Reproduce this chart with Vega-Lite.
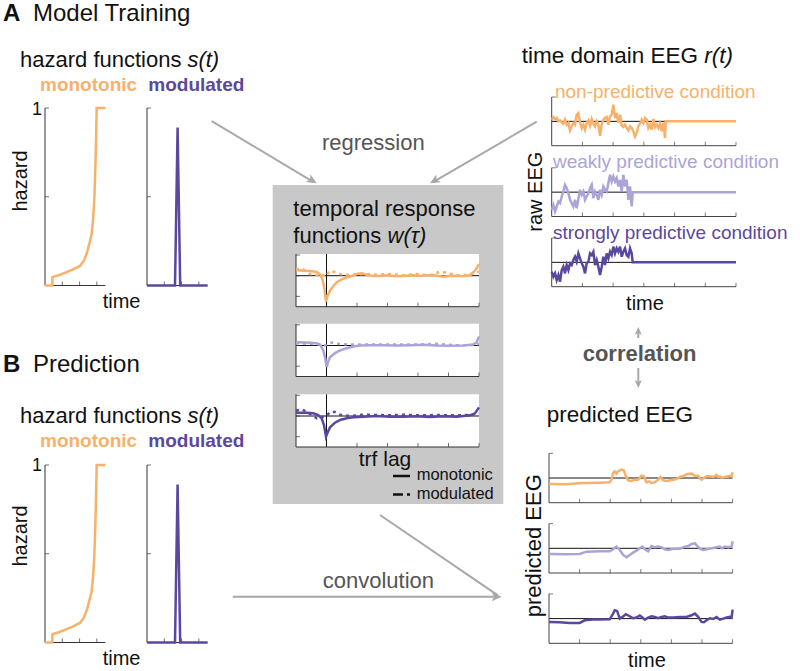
{
"$schema": "https://vega.github.io/schema/vega-lite/v6.json",
"width": 800, "height": 671, "padding": 0, "autosize": "none", "background": "white",
"config": {"view": {"stroke": null}, "axis": {"disable": true}, "font": "Liberation Sans", "text": {"font": "Liberation Sans"}},
"data": {"values": [{}]},
"datasets": {
"hz": [
{"t":0,"h":0,"s":"monotonic"},{"t":0.42,"h":0,"s":"monotonic"},{"t":0.43,"h":0.047,"s":"monotonic"},{"t":0.8,"h":0.058,"s":"monotonic"},{"t":1.25,"h":0.075,"s":"monotonic"},{"t":1.6,"h":0.09,"s":"monotonic"},{"t":2.02,"h":0.11,"s":"monotonic"},{"t":2.25,"h":0.14,"s":"monotonic"},{"t":2.41,"h":0.18,"s":"monotonic"},{"t":2.55,"h":0.23,"s":"monotonic"},{"t":2.7,"h":0.29,"s":"monotonic"},{"t":2.78,"h":0.37,"s":"monotonic"},{"t":2.85,"h":0.48,"s":"monotonic"},{"t":2.9,"h":0.62,"s":"monotonic"},{"t":2.94,"h":0.76,"s":"monotonic"},{"t":2.97,"h":0.9,"s":"monotonic"},{"t":2.99,"h":1.0,"s":"monotonic"},{"t":3.5,"h":1.0,"s":"monotonic"},
{"t":0,"h":0,"s":"modulated"},{"t":1.62,"h":0,"s":"modulated"},{"t":1.77,"h":0.89,"s":"modulated"},{"t":1.92,"h":0,"s":"modulated"},{"t":3.5,"h":0,"s":"modulated"}
],
"trf": [
{"lag":-1,"w":0.274,"c":"np","m":"mono"},{"lag":-0.76,"w":0.242,"c":"np","m":"mono"},{"lag":-0.541,"w":0.226,"c":"np","m":"mono"},{"lag":-0.322,"w":0.177,"c":"np","m":"mono"},{"lag":-0.213,"w":0.081,"c":"np","m":"mono"},{"lag":-0.126,"w":-0.21,"c":"np","m":"mono"},{"lag":-0.071,"w":-0.613,"c":"np","m":"mono"},{"lag":-0.016,"w":-1.258,"c":"np","m":"mono"},{"lag":0.027,"w":-1.016,"c":"np","m":"mono"},{"lag":0.115,"w":-0.726,"c":"np","m":"mono"},{"lag":0.224,"w":-0.5,"c":"np","m":"mono"},{"lag":0.333,"w":-0.323,"c":"np","m":"mono"},{"lag":0.497,"w":-0.177,"c":"np","m":"mono"},{"lag":0.661,"w":-0.081,"c":"np","m":"mono"},{"lag":0.825,"w":-0.016,"c":"np","m":"mono"},{"lag":0.989,"w":0.081,"c":"np","m":"mono"},{"lag":1.153,"w":0.113,"c":"np","m":"mono"},{"lag":1.317,"w":0.048,"c":"np","m":"mono"},{"lag":1.536,"w":-0.016,"c":"np","m":"mono"},{"lag":1.754,"w":-0.016,"c":"np","m":"mono"},{"lag":1.973,"w":0.016,"c":"np","m":"mono"},{"lag":2.191,"w":-0.016,"c":"np","m":"mono"},{"lag":2.41,"w":-0.032,"c":"np","m":"mono"},{"lag":2.628,"w":0,"c":"np","m":"mono"},{"lag":2.847,"w":0.016,"c":"np","m":"mono"},{"lag":3.066,"w":-0.016,"c":"np","m":"mono"},{"lag":3.284,"w":0.016,"c":"np","m":"mono"},{"lag":3.503,"w":0.032,"c":"np","m":"mono"},{"lag":3.667,"w":-0.016,"c":"np","m":"mono"},{"lag":3.831,"w":-0.048,"c":"np","m":"mono"},{"lag":4.049,"w":-0.016,"c":"np","m":"mono"},{"lag":4.268,"w":0,"c":"np","m":"mono"},{"lag":4.486,"w":-0.032,"c":"np","m":"mono"},{"lag":4.705,"w":0.032,"c":"np","m":"mono"},{"lag":4.836,"w":0.194,"c":"np","m":"mono"},{"lag":4.923,"w":0.355,"c":"np","m":"mono"},{"lag":5.0,"w":0.565,"c":"np","m":"mono"},
{"lag":-1,"w":0.323,"c":"np","m":"mod"},{"lag":-0.76,"w":0.306,"c":"np","m":"mod"},{"lag":-0.541,"w":0.081,"c":"np","m":"mod"},{"lag":-0.322,"w":0.032,"c":"np","m":"mod"},{"lag":-0.158,"w":0.081,"c":"np","m":"mod"},{"lag":-0.049,"w":-0.048,"c":"np","m":"mod"},{"lag":0.027,"w":0.081,"c":"np","m":"mod"},{"lag":0.115,"w":0.242,"c":"np","m":"mod"},{"lag":0.224,"w":0.194,"c":"np","m":"mod"},{"lag":0.443,"w":0.081,"c":"np","m":"mod"},{"lag":0.77,"w":0.032,"c":"np","m":"mod"},{"lag":1.208,"w":0.081,"c":"np","m":"mod"},{"lag":1.645,"w":0.048,"c":"np","m":"mod"},{"lag":2.082,"w":0.081,"c":"np","m":"mod"},{"lag":2.519,"w":0.016,"c":"np","m":"mod"},{"lag":2.956,"w":0.081,"c":"np","m":"mod"},{"lag":3.393,"w":0.016,"c":"np","m":"mod"},{"lag":3.721,"w":0.194,"c":"np","m":"mod"},{"lag":3.94,"w":0.145,"c":"np","m":"mod"},{"lag":4.268,"w":0.016,"c":"np","m":"mod"},{"lag":4.705,"w":0.048,"c":"np","m":"mod"},{"lag":5.0,"w":0.194,"c":"np","m":"mod"},
{"lag":-1,"w":0.161,"c":"wp","m":"mono"},{"lag":-0.65,"w":0.145,"c":"wp","m":"mono"},{"lag":-0.322,"w":0.113,"c":"wp","m":"mono"},{"lag":-0.213,"w":0.048,"c":"wp","m":"mono"},{"lag":-0.104,"w":-0.242,"c":"wp","m":"mono"},{"lag":-0.038,"w":-0.645,"c":"wp","m":"mono"},{"lag":0.005,"w":-1.048,"c":"wp","m":"mono"},{"lag":0.049,"w":-0.806,"c":"wp","m":"mono"},{"lag":0.115,"w":-0.565,"c":"wp","m":"mono"},{"lag":0.279,"w":-0.371,"c":"wp","m":"mono"},{"lag":0.443,"w":-0.242,"c":"wp","m":"mono"},{"lag":0.661,"w":-0.129,"c":"wp","m":"mono"},{"lag":0.88,"w":-0.048,"c":"wp","m":"mono"},{"lag":1.098,"w":0,"c":"wp","m":"mono"},{"lag":1.426,"w":0.016,"c":"wp","m":"mono"},{"lag":1.863,"w":0.016,"c":"wp","m":"mono"},{"lag":2.301,"w":0,"c":"wp","m":"mono"},{"lag":2.738,"w":0.016,"c":"wp","m":"mono"},{"lag":3.175,"w":0.032,"c":"wp","m":"mono"},{"lag":3.612,"w":0,"c":"wp","m":"mono"},{"lag":4.049,"w":-0.016,"c":"wp","m":"mono"},{"lag":4.486,"w":0,"c":"wp","m":"mono"},{"lag":4.814,"w":0.048,"c":"wp","m":"mono"},{"lag":4.923,"w":0.161,"c":"wp","m":"mono"},{"lag":5.0,"w":0.435,"c":"wp","m":"mono"},
{"lag":-1,"w":0.113,"c":"wp","m":"mod"},{"lag":-0.541,"w":0.081,"c":"wp","m":"mod"},{"lag":-0.213,"w":0.048,"c":"wp","m":"mod"},{"lag":-0.049,"w":0,"c":"wp","m":"mod"},{"lag":0.06,"w":0.081,"c":"wp","m":"mod"},{"lag":0.169,"w":0.145,"c":"wp","m":"mod"},{"lag":0.333,"w":0.081,"c":"wp","m":"mod"},{"lag":0.77,"w":0.048,"c":"wp","m":"mod"},{"lag":1.426,"w":0.048,"c":"wp","m":"mod"},{"lag":1.973,"w":0.048,"c":"wp","m":"mod"},{"lag":2.519,"w":0.048,"c":"wp","m":"mod"},{"lag":3.066,"w":0.048,"c":"wp","m":"mod"},{"lag":3.612,"w":0.081,"c":"wp","m":"mod"},{"lag":4.158,"w":0.016,"c":"wp","m":"mod"},{"lag":4.705,"w":0.016,"c":"wp","m":"mod"},{"lag":5.0,"w":0.081,"c":"wp","m":"mod"},
{"lag":-1,"w":0.161,"c":"sp","m":"mono"},{"lag":-0.65,"w":0.161,"c":"sp","m":"mono"},{"lag":-0.432,"w":0.129,"c":"sp","m":"mono"},{"lag":-0.268,"w":0.048,"c":"sp","m":"mono"},{"lag":-0.158,"w":-0.113,"c":"sp","m":"mono"},{"lag":-0.082,"w":-0.435,"c":"sp","m":"mono"},{"lag":-0.016,"w":-1.0,"c":"sp","m":"mono"},{"lag":0.027,"w":-0.839,"c":"sp","m":"mono"},{"lag":0.115,"w":-0.548,"c":"sp","m":"mono"},{"lag":0.279,"w":-0.323,"c":"sp","m":"mono"},{"lag":0.443,"w":-0.194,"c":"sp","m":"mono"},{"lag":0.661,"w":-0.113,"c":"sp","m":"mono"},{"lag":0.88,"w":-0.065,"c":"sp","m":"mono"},{"lag":1.208,"w":-0.032,"c":"sp","m":"mono"},{"lag":1.645,"w":0,"c":"sp","m":"mono"},{"lag":2.082,"w":-0.032,"c":"sp","m":"mono"},{"lag":2.519,"w":-0.032,"c":"sp","m":"mono"},{"lag":2.956,"w":-0.016,"c":"sp","m":"mono"},{"lag":3.393,"w":-0.048,"c":"sp","m":"mono"},{"lag":3.831,"w":-0.016,"c":"sp","m":"mono"},{"lag":4.268,"w":-0.032,"c":"sp","m":"mono"},{"lag":4.705,"w":0.032,"c":"sp","m":"mono"},{"lag":4.869,"w":0.129,"c":"sp","m":"mono"},{"lag":5.0,"w":0.419,"c":"sp","m":"mono"},
{"lag":-1,"w":0.258,"c":"sp","m":"mod"},{"lag":-0.814,"w":0.323,"c":"sp","m":"mod"},{"lag":-0.65,"w":0.21,"c":"sp","m":"mod"},{"lag":-0.486,"w":0.048,"c":"sp","m":"mod"},{"lag":-0.322,"w":-0.113,"c":"sp","m":"mod"},{"lag":-0.213,"w":-0.129,"c":"sp","m":"mod"},{"lag":-0.104,"w":-0.032,"c":"sp","m":"mod"},{"lag":0.005,"w":0,"c":"sp","m":"mod"},{"lag":0.115,"w":0.194,"c":"sp","m":"mod"},{"lag":0.279,"w":0.194,"c":"sp","m":"mod"},{"lag":0.443,"w":0.065,"c":"sp","m":"mod"},{"lag":0.77,"w":0,"c":"sp","m":"mod"},{"lag":1.208,"w":0.065,"c":"sp","m":"mod"},{"lag":1.645,"w":0.048,"c":"sp","m":"mod"},{"lag":2.082,"w":0.032,"c":"sp","m":"mod"},{"lag":2.519,"w":0.065,"c":"sp","m":"mod"},{"lag":3.066,"w":0.032,"c":"sp","m":"mod"},{"lag":3.612,"w":0.048,"c":"sp","m":"mod"},{"lag":4.158,"w":0.032,"c":"sp","m":"mod"},{"lag":4.705,"w":0.048,"c":"sp","m":"mod"},{"lag":5.0,"w":0.129,"c":"sp","m":"mod"}
],
"raw": [
{"t":0,"v":0.068,"c":"np"},{"t":0.054,"v":0.178,"c":"np"},{"t":0.109,"v":0.096,"c":"np"},{"t":0.163,"v":0.137,"c":"np"},{"t":0.217,"v":0,"c":"np"},{"t":0.271,"v":0.041,"c":"np"},{"t":0.326,"v":-0.041,"c":"np"},{"t":0.38,"v":-0.096,"c":"np"},{"t":0.434,"v":0.068,"c":"np"},{"t":0.488,"v":-0.137,"c":"np"},{"t":0.543,"v":-0.068,"c":"np"},{"t":0.597,"v":-0.37,"c":"np"},{"t":0.651,"v":-0.205,"c":"np"},{"t":0.705,"v":-0.068,"c":"np"},{"t":0.76,"v":-0.137,"c":"np"},{"t":0.814,"v":0.274,"c":"np"},{"t":0.868,"v":0.342,"c":"np"},{"t":0.922,"v":-0.041,"c":"np"},{"t":0.977,"v":-0.274,"c":"np"},{"t":1.031,"v":-0.137,"c":"np"},{"t":1.085,"v":-0.342,"c":"np"},{"t":1.139,"v":-0.068,"c":"np"},{"t":1.194,"v":0.041,"c":"np"},{"t":1.248,"v":-0.178,"c":"np"},{"t":1.302,"v":0.096,"c":"np"},{"t":1.356,"v":-0.096,"c":"np"},{"t":1.411,"v":-0.205,"c":"np"},{"t":1.465,"v":0,"c":"np"},{"t":1.519,"v":-0.137,"c":"np"},{"t":1.574,"v":-0.589,"c":"np"},{"t":1.628,"v":-0.137,"c":"np"},{"t":1.682,"v":0.068,"c":"np"},{"t":1.736,"v":0.137,"c":"np"},{"t":1.791,"v":0.178,"c":"np"},{"t":1.845,"v":-0.137,"c":"np"},{"t":1.899,"v":0.205,"c":"np"},{"t":1.953,"v":0.274,"c":"np"},{"t":2.008,"v":0.685,"c":"np"},{"t":2.062,"v":0.137,"c":"np"},{"t":2.116,"v":0.342,"c":"np"},{"t":2.17,"v":-0.068,"c":"np"},{"t":2.225,"v":0.274,"c":"np"},{"t":2.279,"v":-0.178,"c":"np"},{"t":2.333,"v":-0.233,"c":"np"},{"t":2.387,"v":-0.137,"c":"np"},{"t":2.442,"v":-0.274,"c":"np"},{"t":2.496,"v":-0.37,"c":"np"},{"t":2.55,"v":-0.205,"c":"np"},{"t":2.604,"v":-0.274,"c":"np"},{"t":2.659,"v":-0.411,"c":"np"},{"t":2.713,"v":-0.616,"c":"np"},{"t":2.767,"v":-0.452,"c":"np"},{"t":2.821,"v":-0.205,"c":"np"},{"t":2.876,"v":-0.096,"c":"np"},{"t":2.93,"v":0.068,"c":"np"},{"t":2.984,"v":-0.068,"c":"np"},{"t":3.039,"v":0.137,"c":"np"},{"t":3.093,"v":0.068,"c":"np"},{"t":3.147,"v":-0.274,"c":"np"},{"t":3.201,"v":-0.137,"c":"np"},{"t":3.256,"v":-0.342,"c":"np"},{"t":3.31,"v":0.096,"c":"np"},{"t":3.364,"v":-0.233,"c":"np"},{"t":3.418,"v":-0.137,"c":"np"},{"t":3.473,"v":-0.274,"c":"np"},{"t":3.527,"v":-0.096,"c":"np"},{"t":3.581,"v":-0.411,"c":"np"},{"t":3.635,"v":-0.068,"c":"np"},{"t":3.69,"v":-0.685,"c":"np"},{"t":3.711,"v":0,"c":"np"},{"t":6,"v":0,"c":"np"},
{"t":0,"v":-0.726,"c":"wp"},{"t":0.054,"v":-0.521,"c":"wp"},{"t":0.109,"v":-0.795,"c":"wp"},{"t":0.163,"v":-0.589,"c":"wp"},{"t":0.217,"v":-0.384,"c":"wp"},{"t":0.271,"v":-0.452,"c":"wp"},{"t":0.326,"v":-0.178,"c":"wp"},{"t":0.38,"v":0.027,"c":"wp"},{"t":0.434,"v":0.301,"c":"wp"},{"t":0.488,"v":0.164,"c":"wp"},{"t":0.543,"v":-0.041,"c":"wp"},{"t":0.597,"v":-0.315,"c":"wp"},{"t":0.651,"v":-0.452,"c":"wp"},{"t":0.705,"v":-0.589,"c":"wp"},{"t":0.76,"v":-0.315,"c":"wp"},{"t":0.814,"v":-0.658,"c":"wp"},{"t":0.868,"v":-0.288,"c":"wp"},{"t":0.922,"v":0.096,"c":"wp"},{"t":0.977,"v":-0.11,"c":"wp"},{"t":1.031,"v":0.027,"c":"wp"},{"t":1.085,"v":-0.315,"c":"wp"},{"t":1.139,"v":-0.178,"c":"wp"},{"t":1.194,"v":-0.041,"c":"wp"},{"t":1.248,"v":0.164,"c":"wp"},{"t":1.302,"v":0.301,"c":"wp"},{"t":1.356,"v":-0.247,"c":"wp"},{"t":1.411,"v":0.027,"c":"wp"},{"t":1.465,"v":-0.11,"c":"wp"},{"t":1.519,"v":-0.315,"c":"wp"},{"t":1.574,"v":0.096,"c":"wp"},{"t":1.628,"v":-0.11,"c":"wp"},{"t":1.682,"v":0.233,"c":"wp"},{"t":1.736,"v":0.096,"c":"wp"},{"t":1.791,"v":0.027,"c":"wp"},{"t":1.845,"v":0.37,"c":"wp"},{"t":1.899,"v":0.712,"c":"wp"},{"t":1.953,"v":0.438,"c":"wp"},{"t":2.008,"v":0.644,"c":"wp"},{"t":2.062,"v":0.438,"c":"wp"},{"t":2.116,"v":0.575,"c":"wp"},{"t":2.17,"v":0.233,"c":"wp"},{"t":2.225,"v":0.507,"c":"wp"},{"t":2.279,"v":0.027,"c":"wp"},{"t":2.333,"v":0.712,"c":"wp"},{"t":2.387,"v":0.233,"c":"wp"},{"t":2.442,"v":0.507,"c":"wp"},{"t":2.496,"v":-0.315,"c":"wp"},{"t":2.55,"v":0.233,"c":"wp"},{"t":2.604,"v":-0.589,"c":"wp"},{"t":2.637,"v":0,"c":"wp"},{"t":6,"v":0,"c":"wp"},
{"t":0,"v":-0.384,"c":"sp"},{"t":0.054,"v":-0.589,"c":"sp"},{"t":0.109,"v":-0.452,"c":"sp"},{"t":0.163,"v":-0.726,"c":"sp"},{"t":0.217,"v":-0.521,"c":"sp"},{"t":0.271,"v":-0.795,"c":"sp"},{"t":0.326,"v":-0.315,"c":"sp"},{"t":0.38,"v":-0.178,"c":"sp"},{"t":0.434,"v":-0.452,"c":"sp"},{"t":0.488,"v":-0.11,"c":"sp"},{"t":0.543,"v":-0.315,"c":"sp"},{"t":0.597,"v":-0.041,"c":"sp"},{"t":0.651,"v":-0.11,"c":"sp"},{"t":0.705,"v":0.096,"c":"sp"},{"t":0.76,"v":0.233,"c":"sp"},{"t":0.814,"v":0.027,"c":"sp"},{"t":0.868,"v":0.37,"c":"sp"},{"t":0.922,"v":0.164,"c":"sp"},{"t":0.977,"v":-0.041,"c":"sp"},{"t":1.031,"v":-0.178,"c":"sp"},{"t":1.085,"v":-0.452,"c":"sp"},{"t":1.139,"v":-0.041,"c":"sp"},{"t":1.194,"v":0.027,"c":"sp"},{"t":1.248,"v":0.37,"c":"sp"},{"t":1.302,"v":0.301,"c":"sp"},{"t":1.356,"v":0.438,"c":"sp"},{"t":1.411,"v":-0.11,"c":"sp"},{"t":1.465,"v":0.096,"c":"sp"},{"t":1.519,"v":-0.178,"c":"sp"},{"t":1.574,"v":-0.521,"c":"sp"},{"t":1.628,"v":-0.178,"c":"sp"},{"t":1.682,"v":0.233,"c":"sp"},{"t":1.736,"v":-0.11,"c":"sp"},{"t":1.791,"v":0.37,"c":"sp"},{"t":1.845,"v":0.164,"c":"sp"},{"t":1.899,"v":0.438,"c":"sp"},{"t":1.953,"v":0.301,"c":"sp"},{"t":2.008,"v":0.644,"c":"sp"},{"t":2.062,"v":0.37,"c":"sp"},{"t":2.116,"v":0.575,"c":"sp"},{"t":2.17,"v":0.438,"c":"sp"},{"t":2.225,"v":0.644,"c":"sp"},{"t":2.279,"v":0.233,"c":"sp"},{"t":2.333,"v":0.438,"c":"sp"},{"t":2.387,"v":0.575,"c":"sp"},{"t":2.442,"v":0.301,"c":"sp"},{"t":2.496,"v":0.233,"c":"sp"},{"t":2.55,"v":0.575,"c":"sp"},{"t":2.604,"v":0.37,"c":"sp"},{"t":2.637,"v":0,"c":"sp"},{"t":6,"v":0,"c":"sp"}
],
"pred": [
{"t":0,"v":-0.243,"c":"np"},{"t":0.567,"v":-0.257,"c":"np"},{"t":1.113,"v":-0.203,"c":"np"},{"t":1.658,"v":-0.189,"c":"np"},{"t":1.985,"v":-0.176,"c":"np"},{"t":2.04,"v":-0.068,"c":"np"},{"t":2.094,"v":0.203,"c":"np"},{"t":2.149,"v":0.27,"c":"np"},{"t":2.204,"v":0.176,"c":"np"},{"t":2.258,"v":0.27,"c":"np"},{"t":2.367,"v":0.338,"c":"np"},{"t":2.444,"v":0.311,"c":"np"},{"t":2.509,"v":0.095,"c":"np"},{"t":2.585,"v":-0.095,"c":"np"},{"t":2.694,"v":-0.122,"c":"np"},{"t":2.804,"v":-0.068,"c":"np"},{"t":2.913,"v":-0.068,"c":"np"},{"t":3.022,"v":0.095,"c":"np"},{"t":3.098,"v":0.068,"c":"np"},{"t":3.185,"v":-0.176,"c":"np"},{"t":3.273,"v":-0.135,"c":"np"},{"t":3.349,"v":-0.203,"c":"np"},{"t":3.458,"v":-0.176,"c":"np"},{"t":3.567,"v":-0.068,"c":"np"},{"t":3.644,"v":0.041,"c":"np"},{"t":3.731,"v":-0.095,"c":"np"},{"t":3.84,"v":-0.122,"c":"np"},{"t":3.949,"v":-0.095,"c":"np"},{"t":4.058,"v":-0.068,"c":"np"},{"t":4.167,"v":-0.041,"c":"np"},{"t":4.276,"v":0.041,"c":"np"},{"t":4.385,"v":0.068,"c":"np"},{"t":4.494,"v":0.149,"c":"np"},{"t":4.658,"v":0.176,"c":"np"},{"t":4.767,"v":0.095,"c":"np"},{"t":4.876,"v":0.095,"c":"np"},{"t":4.931,"v":-0.014,"c":"np"},{"t":4.985,"v":-0.068,"c":"np"},{"t":5.062,"v":0,"c":"np"},{"t":5.149,"v":0.068,"c":"np"},{"t":5.258,"v":0.068,"c":"np"},{"t":5.367,"v":0.041,"c":"np"},{"t":5.476,"v":0.122,"c":"np"},{"t":5.531,"v":0.041,"c":"np"},{"t":5.585,"v":0.068,"c":"np"},{"t":5.64,"v":0.014,"c":"np"},{"t":5.749,"v":0.041,"c":"np"},{"t":5.858,"v":0.068,"c":"np"},{"t":5.913,"v":0.095,"c":"np"},{"t":5.967,"v":0.068,"c":"np"},{"t":6,"v":0.23,"c":"np"},
{"t":0,"v":-0.23,"c":"wp"},{"t":0.567,"v":-0.243,"c":"wp"},{"t":1.004,"v":-0.23,"c":"wp"},{"t":1.222,"v":-0.135,"c":"wp"},{"t":1.658,"v":-0.122,"c":"wp"},{"t":1.985,"v":-0.122,"c":"wp"},{"t":2.094,"v":-0.041,"c":"wp"},{"t":2.204,"v":0.068,"c":"wp"},{"t":2.313,"v":-0.068,"c":"wp"},{"t":2.422,"v":-0.27,"c":"wp"},{"t":2.531,"v":-0.365,"c":"wp"},{"t":2.64,"v":-0.27,"c":"wp"},{"t":2.749,"v":-0.176,"c":"wp"},{"t":2.858,"v":-0.095,"c":"wp"},{"t":2.967,"v":0,"c":"wp"},{"t":3.054,"v":0.068,"c":"wp"},{"t":3.131,"v":-0.041,"c":"wp"},{"t":3.24,"v":-0.122,"c":"wp"},{"t":3.349,"v":0.095,"c":"wp"},{"t":3.458,"v":0.041,"c":"wp"},{"t":3.567,"v":0.068,"c":"wp"},{"t":3.676,"v":0.041,"c":"wp"},{"t":3.785,"v":-0.041,"c":"wp"},{"t":3.894,"v":-0.068,"c":"wp"},{"t":4.003,"v":-0.041,"c":"wp"},{"t":4.113,"v":-0.014,"c":"wp"},{"t":4.276,"v":-0.014,"c":"wp"},{"t":4.44,"v":0.068,"c":"wp"},{"t":4.549,"v":0.095,"c":"wp"},{"t":4.658,"v":0.176,"c":"wp"},{"t":4.767,"v":0.203,"c":"wp"},{"t":4.931,"v":-0.014,"c":"wp"},{"t":5.04,"v":-0.068,"c":"wp"},{"t":5.149,"v":-0.041,"c":"wp"},{"t":5.258,"v":-0.014,"c":"wp"},{"t":5.367,"v":0.014,"c":"wp"},{"t":5.476,"v":0.041,"c":"wp"},{"t":5.585,"v":0.068,"c":"wp"},{"t":5.64,"v":0,"c":"wp"},{"t":5.749,"v":0.068,"c":"wp"},{"t":5.858,"v":0.041,"c":"wp"},{"t":5.967,"v":0.068,"c":"wp"},{"t":6,"v":0.284,"c":"wp"},
{"t":0,"v":-0.135,"c":"sp"},{"t":0.349,"v":-0.149,"c":"sp"},{"t":0.676,"v":-0.176,"c":"sp"},{"t":1.004,"v":-0.176,"c":"sp"},{"t":1.167,"v":-0.068,"c":"sp"},{"t":1.44,"v":-0.041,"c":"sp"},{"t":1.658,"v":-0.041,"c":"sp"},{"t":1.985,"v":-0.027,"c":"sp"},{"t":2.094,"v":0.203,"c":"sp"},{"t":2.149,"v":0.338,"c":"sp"},{"t":2.225,"v":0.311,"c":"sp"},{"t":2.313,"v":0,"c":"sp"},{"t":2.4,"v":0.068,"c":"sp"},{"t":2.509,"v":0.176,"c":"sp"},{"t":2.64,"v":0.095,"c":"sp"},{"t":2.749,"v":0.014,"c":"sp"},{"t":2.858,"v":0.041,"c":"sp"},{"t":2.967,"v":0.122,"c":"sp"},{"t":3.054,"v":0.041,"c":"sp"},{"t":3.131,"v":-0.041,"c":"sp"},{"t":3.24,"v":0.041,"c":"sp"},{"t":3.349,"v":0.095,"c":"sp"},{"t":3.458,"v":0.068,"c":"sp"},{"t":3.567,"v":0.014,"c":"sp"},{"t":3.676,"v":0.068,"c":"sp"},{"t":3.785,"v":0.095,"c":"sp"},{"t":3.894,"v":0.041,"c":"sp"},{"t":4.058,"v":0.041,"c":"sp"},{"t":4.276,"v":0.068,"c":"sp"},{"t":4.494,"v":0.068,"c":"sp"},{"t":4.658,"v":0.135,"c":"sp"},{"t":4.767,"v":0.203,"c":"sp"},{"t":4.876,"v":0.068,"c":"sp"},{"t":4.985,"v":-0.135,"c":"sp"},{"t":5.062,"v":-0.149,"c":"sp"},{"t":5.149,"v":-0.068,"c":"sp"},{"t":5.258,"v":0.014,"c":"sp"},{"t":5.367,"v":-0.014,"c":"sp"},{"t":5.476,"v":0.068,"c":"sp"},{"t":5.585,"v":-0.041,"c":"sp"},{"t":5.694,"v":0,"c":"sp"},{"t":5.803,"v":0.041,"c":"sp"},{"t":5.913,"v":0.068,"c":"sp"},{"t":5.967,"v":0.041,"c":"sp"},{"t":6,"v":0.365,"c":"sp"}
]
},
"layer": [
{"layer": [
 {"mark":{"type":"rule","color":"#333","strokeWidth":1},"encoding":{"x":{"datum":0,"type":"quantitative","scale":{"domain":[0,3.5],"range":[45,105.5],"nice":false,"zero":false}},"y":{"datum":0,"type":"quantitative","scale":{"domain":[0,1],"range":[285.5,108],"nice":false,"zero":false}},"y2":{"datum":1}}},
 {"mark":{"type":"rule","color":"#333","strokeWidth":1},"encoding":{"x":{"datum":0},"x2":{"datum":3.5},"y":{"datum":0}}},
 {"data":{"values":[{"v":1},{"v":2},{"v":3}]},"mark":{"type":"tick","orient":"vertical","size":4,"thickness":1,"yOffset":-2,"color":"#333"},"encoding":{"x":{"field":"v","type":"quantitative"},"y":{"datum":0}}},
 {"data":{"values":[{"v":0.5},{"v":1}]},"mark":{"type":"tick","orient":"horizontal","size":4,"thickness":1,"xOffset":2,"color":"#333"},"encoding":{"y":{"field":"v","type":"quantitative"},"x":{"datum":0}}},
 {"data":{"name":"hz"},"transform":[{"filter":"datum.s=='monotonic'"}],"mark":{"type":"line","color":"#F7B16A","strokeWidth":2.5},"encoding":{"x":{"field":"t","type":"quantitative"},"y":{"field":"h","type":"quantitative"}}},
 {"mark":{"type":"text","text":"A","fontSize":24,"fontWeight":"bold","align":"left","baseline":"alphabetic","color":"#111"},"encoding":{"x":{"datum":-2.43},"y":{"datum":1.49}}},
 {"mark":{"type":"text","text":"Model Training","fontSize":24,"align":"left","baseline":"alphabetic","color":"#111"},"encoding":{"x":{"datum":-0.694},"y":{"datum":1.49}}},
 {"mark":{"type":"text","text":"hazard functions","fontSize":22,"align":"left","baseline":"alphabetic","color":"#111"},"encoding":{"x":{"datum":-1.445},"y":{"datum":1.2327}}},
 {"mark":{"type":"text","text":"s(t)","fontSize":22,"fontStyle":"italic","align":"left","baseline":"alphabetic","color":"#111"},"encoding":{"x":{"datum":8.24},"y":{"datum":1.2327}}},
 {"mark":{"type":"text","text":"monotonic","fontSize":19,"fontWeight":"bold","align":"left","baseline":"alphabetic","color":"#F7B16A"},"encoding":{"x":{"datum":-0.289},"y":{"datum":1.0958}}},
 {"mark":{"type":"text","text":"1","fontSize":18,"align":"right","baseline":"alphabetic","color":"#111"},"encoding":{"x":{"datum":-0.173},"y":{"datum":0.9606}}},
 {"mark":{"type":"text","text":"hazard","fontSize":20,"angle":270,"align":"center","baseline":"alphabetic","color":"#111"},"encoding":{"x":{"datum":-1.058},"y":{"datum":0.5887}}},
 {"mark":{"type":"text","text":"time","fontSize":20,"align":"center","baseline":"alphabetic","color":"#111"},"encoding":{"x":{"datum":4.43},"y":{"datum":-0.1268}}}
]},
{"layer": [
 {"mark":{"type":"rule","color":"#333","strokeWidth":1},"encoding":{"x":{"datum":0,"type":"quantitative","scale":{"domain":[0,3.5],"range":[147,207.5],"nice":false,"zero":false}},"y":{"datum":0,"type":"quantitative","scale":{"domain":[0,1],"range":[285.5,108],"nice":false,"zero":false}},"y2":{"datum":1}}},
 {"mark":{"type":"rule","color":"#333","strokeWidth":1},"encoding":{"x":{"datum":0},"x2":{"datum":3.5},"y":{"datum":0}}},
 {"data":{"values":[{"v":1},{"v":2},{"v":3}]},"mark":{"type":"tick","orient":"vertical","size":4,"thickness":1,"yOffset":-2,"color":"#333"},"encoding":{"x":{"field":"v","type":"quantitative"},"y":{"datum":0}}},
 {"data":{"values":[{"v":0.5},{"v":1}]},"mark":{"type":"tick","orient":"horizontal","size":4,"thickness":1,"xOffset":2,"color":"#333"},"encoding":{"y":{"field":"v","type":"quantitative"},"x":{"datum":0}}},
 {"data":{"name":"hz"},"transform":[{"filter":"datum.s=='modulated'"}],"mark":{"type":"line","color":"#5C479E","strokeWidth":2.5},"encoding":{"x":{"field":"t","type":"quantitative"},"y":{"field":"h","type":"quantitative"}}},
 {"mark":{"type":"text","text":"modulated","fontSize":19,"fontWeight":"bold","align":"left","baseline":"alphabetic","color":"#5C479E"},"encoding":{"x":{"datum":0.075},"y":{"datum":1.0958}}}
]},
{"layer": [
 {"mark":{"type":"rule","color":"#333","strokeWidth":1},"encoding":{"x":{"datum":0,"type":"quantitative","scale":{"domain":[0,3.5],"range":[45,105.5],"nice":false,"zero":false}},"y":{"datum":0,"type":"quantitative","scale":{"domain":[0,1],"range":[642.5,465],"nice":false,"zero":false}},"y2":{"datum":1}}},
 {"mark":{"type":"rule","color":"#333","strokeWidth":1},"encoding":{"x":{"datum":0},"x2":{"datum":3.5},"y":{"datum":0}}},
 {"data":{"values":[{"v":1},{"v":2},{"v":3}]},"mark":{"type":"tick","orient":"vertical","size":4,"thickness":1,"yOffset":-2,"color":"#333"},"encoding":{"x":{"field":"v","type":"quantitative"},"y":{"datum":0}}},
 {"data":{"values":[{"v":0.5},{"v":1}]},"mark":{"type":"tick","orient":"horizontal","size":4,"thickness":1,"xOffset":2,"color":"#333"},"encoding":{"y":{"field":"v","type":"quantitative"},"x":{"datum":0}}},
 {"data":{"name":"hz"},"transform":[{"filter":"datum.s=='monotonic'"}],"mark":{"type":"line","color":"#F7B16A","strokeWidth":2.5},"encoding":{"x":{"field":"t","type":"quantitative"},"y":{"field":"h","type":"quantitative"}}},
 {"mark":{"type":"text","text":"B","fontSize":24,"fontWeight":"bold","align":"left","baseline":"alphabetic","color":"#111"},"encoding":{"x":{"datum":-2.43},"y":{"datum":1.524}}},
 {"mark":{"type":"text","text":"Prediction","fontSize":24,"align":"left","baseline":"alphabetic","color":"#111"},"encoding":{"x":{"datum":-0.694},"y":{"datum":1.524}}},
 {"mark":{"type":"text","text":"hazard functions","fontSize":22,"align":"left","baseline":"alphabetic","color":"#111"},"encoding":{"x":{"datum":-1.445},"y":{"datum":1.2366}}},
 {"mark":{"type":"text","text":"s(t)","fontSize":22,"fontStyle":"italic","align":"left","baseline":"alphabetic","color":"#111"},"encoding":{"x":{"datum":8.24},"y":{"datum":1.2366}}},
 {"mark":{"type":"text","text":"monotonic","fontSize":19,"fontWeight":"bold","align":"left","baseline":"alphabetic","color":"#F7B16A"},"encoding":{"x":{"datum":-0.289},"y":{"datum":1.1014}}},
 {"mark":{"type":"text","text":"1","fontSize":18,"align":"right","baseline":"alphabetic","color":"#111"},"encoding":{"x":{"datum":-0.173},"y":{"datum":0.9634}}},
 {"mark":{"type":"text","text":"hazard","fontSize":20,"angle":270,"align":"center","baseline":"alphabetic","color":"#111"},"encoding":{"x":{"datum":-1.058},"y":{"datum":0.6}}},
 {"mark":{"type":"text","text":"time","fontSize":20,"align":"center","baseline":"alphabetic","color":"#111"},"encoding":{"x":{"datum":4.43},"y":{"datum":-0.1268}}}
]},
{"layer": [
 {"mark":{"type":"rule","color":"#333","strokeWidth":1},"encoding":{"x":{"datum":0,"type":"quantitative","scale":{"domain":[0,3.5],"range":[147,207.5],"nice":false,"zero":false}},"y":{"datum":0,"type":"quantitative","scale":{"domain":[0,1],"range":[642.5,465],"nice":false,"zero":false}},"y2":{"datum":1}}},
 {"mark":{"type":"rule","color":"#333","strokeWidth":1},"encoding":{"x":{"datum":0},"x2":{"datum":3.5},"y":{"datum":0}}},
 {"data":{"values":[{"v":1},{"v":2},{"v":3}]},"mark":{"type":"tick","orient":"vertical","size":4,"thickness":1,"yOffset":-2,"color":"#333"},"encoding":{"x":{"field":"v","type":"quantitative"},"y":{"datum":0}}},
 {"data":{"values":[{"v":0.5},{"v":1}]},"mark":{"type":"tick","orient":"horizontal","size":4,"thickness":1,"xOffset":2,"color":"#333"},"encoding":{"y":{"field":"v","type":"quantitative"},"x":{"datum":0}}},
 {"data":{"name":"hz"},"transform":[{"filter":"datum.s=='modulated'"}],"mark":{"type":"line","color":"#5C479E","strokeWidth":2.5},"encoding":{"x":{"field":"t","type":"quantitative"},"y":{"field":"h","type":"quantitative"}}},
 {"mark":{"type":"text","text":"modulated","fontSize":19,"fontWeight":"bold","align":"left","baseline":"alphabetic","color":"#5C479E"},"encoding":{"x":{"datum":0.075},"y":{"datum":1.1014}}}
]},
{"layer": [
 {"mark":{"type":"rect","color":"#C8C8C8"},"encoding":{"x":{"datum":-1.764,"type":"quantitative","scale":{"domain":[-1,5],"range":[296,479],"nice":false,"zero":false}},"x2":{"datum":5.797},"y":{"datum":4.388,"type":"quantitative","scale":{"domain":[-1.5,1.05],"range":[306.7,254],"nice":false,"zero":false}},"y2":{"datum":-11.045}}},
 {"mark":{"type":"rect","color":"white"},"encoding":{"x":{"datum":-1},"x2":{"datum":5},"y":{"datum":-1.5},"y2":{"datum":1.05}}},
 {"mark":{"type":"rule","color":"#111","strokeWidth":1},"encoding":{"x":{"datum":-1},"x2":{"datum":5},"y":{"datum":0}}},
 {"mark":{"type":"rule","color":"#111","strokeWidth":1},"encoding":{"x":{"datum":0},"y":{"datum":-1.5},"y2":{"datum":1.05}}},
 {"mark":{"type":"rule","color":"#333","strokeWidth":1},"encoding":{"x":{"datum":-1},"y":{"datum":-1.5},"y2":{"datum":1.05}}},
 {"mark":{"type":"rule","color":"#333","strokeWidth":1},"encoding":{"x":{"datum":-1},"x2":{"datum":5},"y":{"datum":-1.5}}},
 {"data":{"values":[{"v":1},{"v":2},{"v":3},{"v":4},{"v":5}]},"mark":{"type":"tick","orient":"vertical","size":4,"thickness":1,"yOffset":-2,"color":"#333"},"encoding":{"x":{"field":"v","type":"quantitative"},"y":{"datum":-1.5}}},
 {"data":{"values":[{"v":-1},{"v":0},{"v":1}]},"mark":{"type":"tick","orient":"horizontal","size":4,"thickness":1,"xOffset":2,"color":"#333"},"encoding":{"y":{"field":"v","type":"quantitative"},"x":{"datum":-1}}},
 {"data":{"name":"trf"},"transform":[{"filter":"datum.c=='np' && datum.m=='mod'"}],"mark":{"type":"line","color":"#F7B16A","strokeWidth":2.5,"strokeDash":[3,4]},"encoding":{"x":{"field":"lag","type":"quantitative"},"y":{"field":"w","type":"quantitative"}}},
 {"data":{"name":"trf"},"transform":[{"filter":"datum.c=='np' && datum.m=='mono'"}],"mark":{"type":"line","color":"#F7B16A","strokeWidth":2.5},"encoding":{"x":{"field":"lag","type":"quantitative"},"y":{"field":"w","type":"quantitative"}}},
 {"mark":{"type":"text","text":"temporal response","fontSize":22,"align":"left","baseline":"alphabetic","color":"#111"},"encoding":{"x":{"datum":-1.089},"y":{"datum":2.888}}},
 {"mark":{"type":"text","text":"functions","fontSize":22,"align":"left","baseline":"alphabetic","color":"#111"},"encoding":{"x":{"datum":-1.089},"y":{"datum":1.567}}},
 {"mark":{"type":"text","text":"w(τ)","fontSize":22,"fontStyle":"italic","align":"left","baseline":"alphabetic","color":"#111"},"encoding":{"x":{"datum":2.0},"y":{"datum":1.567}}},
 {"mark":{"type":"rule","color":"#A8A8A8","strokeWidth":2},"encoding":{"x":{"datum":-3.764},"y":{"datum":7.484},"x2":{"datum":-0.45},"y2":{"datum":4.55}}},
 {"mark":{"type":"rule","color":"#A8A8A8","strokeWidth":2},"encoding":{"x":{"datum":6.892},"y":{"datum":7.45},"x2":{"datum":3.52},"y2":{"datum":4.55}}},
 {"mark":{"type":"point","shape":"M0,0L0.9,2L0,1.5L-0.9,2Z","size":100,"angle":120.7,"filled":true,"color":"#A8A8A8","opacity":1},"encoding":{"x":{"datum":-0.321},"y":{"datum":4.47}}},
 {"mark":{"type":"point","shape":"M0,0L0.9,2L0,1.5L-0.9,2Z","size":100,"angle":240,"filled":true,"color":"#A8A8A8","opacity":1},"encoding":{"x":{"datum":3.393},"y":{"datum":4.47}}},
 {"mark":{"type":"text","text":"regression","fontSize":22,"align":"center","baseline":"alphabetic","color":"#555"},"encoding":{"x":{"datum":1.534},"y":{"datum":6.081}}}
]},
{"layer": [
 {"mark":{"type":"rect","color":"white"},"encoding":{"x":{"datum":-1,"type":"quantitative","scale":{"domain":[-1,5],"range":[296,479],"nice":false,"zero":false}},"x2":{"datum":5},"y":{"datum":-1.5,"type":"quantitative","scale":{"domain":[-1.5,1.05],"range":[376.5,323.8],"nice":false,"zero":false}},"y2":{"datum":1.05}}},
 {"mark":{"type":"rule","color":"#111","strokeWidth":1},"encoding":{"x":{"datum":-1},"x2":{"datum":5},"y":{"datum":0}}},
 {"mark":{"type":"rule","color":"#111","strokeWidth":1},"encoding":{"x":{"datum":0},"y":{"datum":-1.5},"y2":{"datum":1.05}}},
 {"mark":{"type":"rule","color":"#333","strokeWidth":1},"encoding":{"x":{"datum":-1},"y":{"datum":-1.5},"y2":{"datum":1.05}}},
 {"mark":{"type":"rule","color":"#333","strokeWidth":1},"encoding":{"x":{"datum":-1},"x2":{"datum":5},"y":{"datum":-1.5}}},
 {"data":{"values":[{"v":1},{"v":2},{"v":3},{"v":4},{"v":5}]},"mark":{"type":"tick","orient":"vertical","size":4,"thickness":1,"yOffset":-2,"color":"#333"},"encoding":{"x":{"field":"v","type":"quantitative"},"y":{"datum":-1.5}}},
 {"data":{"values":[{"v":-1},{"v":0},{"v":1}]},"mark":{"type":"tick","orient":"horizontal","size":4,"thickness":1,"xOffset":2,"color":"#333"},"encoding":{"y":{"field":"v","type":"quantitative"},"x":{"datum":-1}}},
 {"data":{"name":"trf"},"transform":[{"filter":"datum.c=='wp' && datum.m=='mod'"}],"mark":{"type":"line","color":"#ABA4D6","strokeWidth":2.5,"strokeDash":[3,4]},"encoding":{"x":{"field":"lag","type":"quantitative"},"y":{"field":"w","type":"quantitative"}}},
 {"data":{"name":"trf"},"transform":[{"filter":"datum.c=='wp' && datum.m=='mono'"}],"mark":{"type":"line","color":"#ABA4D6","strokeWidth":2.5},"encoding":{"x":{"field":"lag","type":"quantitative"},"y":{"field":"w","type":"quantitative"}}}
]},
{"layer": [
 {"mark":{"type":"rect","color":"white"},"encoding":{"x":{"datum":-1,"type":"quantitative","scale":{"domain":[-1,5],"range":[296,479],"nice":false,"zero":false}},"x2":{"datum":5},"y":{"datum":-1.5,"type":"quantitative","scale":{"domain":[-1.5,1.05],"range":[447,394.3],"nice":false,"zero":false}},"y2":{"datum":1.05}}},
 {"mark":{"type":"rule","color":"#111","strokeWidth":1},"encoding":{"x":{"datum":-1},"x2":{"datum":5},"y":{"datum":0}}},
 {"mark":{"type":"rule","color":"#111","strokeWidth":1},"encoding":{"x":{"datum":0},"y":{"datum":-1.5},"y2":{"datum":1.05}}},
 {"mark":{"type":"rule","color":"#333","strokeWidth":1},"encoding":{"x":{"datum":-1},"y":{"datum":-1.5},"y2":{"datum":1.05}}},
 {"mark":{"type":"rule","color":"#333","strokeWidth":1},"encoding":{"x":{"datum":-1},"x2":{"datum":5},"y":{"datum":-1.5}}},
 {"data":{"values":[{"v":1},{"v":2},{"v":3},{"v":4},{"v":5}]},"mark":{"type":"tick","orient":"vertical","size":4,"thickness":1,"yOffset":-2,"color":"#333"},"encoding":{"x":{"field":"v","type":"quantitative"},"y":{"datum":-1.5}}},
 {"data":{"values":[{"v":-1},{"v":0},{"v":1}]},"mark":{"type":"tick","orient":"horizontal","size":4,"thickness":1,"xOffset":2,"color":"#333"},"encoding":{"y":{"field":"v","type":"quantitative"},"x":{"datum":-1}}},
 {"data":{"name":"trf"},"transform":[{"filter":"datum.c=='sp' && datum.m=='mod'"}],"mark":{"type":"line","color":"#5C479E","strokeWidth":2.5,"strokeDash":[3,4]},"encoding":{"x":{"field":"lag","type":"quantitative"},"y":{"field":"w","type":"quantitative"}}},
 {"data":{"name":"trf"},"transform":[{"filter":"datum.c=='sp' && datum.m=='mono'"}],"mark":{"type":"line","color":"#5C479E","strokeWidth":2.5},"encoding":{"x":{"field":"lag","type":"quantitative"},"y":{"field":"w","type":"quantitative"}}},
 {"mark":{"type":"text","text":"trf lag","fontSize":21,"align":"center","baseline":"alphabetic","color":"#111"},"encoding":{"x":{"datum":1.918},"y":{"datum":-2.419}}},
 {"mark":{"type":"rule","color":"#111","strokeWidth":2.5},"encoding":{"x":{"datum":2.18},"x2":{"datum":2.738},"y":{"datum":-2.903}}},
 {"mark":{"type":"rule","color":"#111","strokeWidth":2.5,"strokeDash":[10,4]},"encoding":{"x":{"datum":2.18},"x2":{"datum":2.738},"y":{"datum":-3.798}}},
 {"mark":{"type":"text","text":"monotonic","fontSize":16.5,"align":"left","baseline":"alphabetic","color":"#111"},"encoding":{"x":{"datum":2.957},"y":{"datum":-3.12}}},
 {"mark":{"type":"text","text":"modulated","fontSize":16.5,"align":"left","baseline":"alphabetic","color":"#111"},"encoding":{"x":{"datum":2.957},"y":{"datum":-4.04}}},
 {"mark":{"type":"rule","color":"#A8A8A8","strokeWidth":2},"encoding":{"x":{"datum":1.754},"y":{"datum":-4.79},"x2":{"datum":5.62},"y2":{"datum":-8.68}}},
 {"mark":{"type":"rule","color":"#A8A8A8","strokeWidth":2},"encoding":{"x":{"datum":-3.075},"x2":{"datum":5.6},"y":{"datum":-8.742}}},
 {"mark":{"type":"point","shape":"M0,0L0.9,2L0,1.5L-0.9,2Z","size":100,"angle":90,"filled":true,"color":"#A8A8A8","opacity":1},"encoding":{"x":{"datum":5.744},"y":{"datum":-8.742}}},
 {"mark":{"type":"text","text":"convolution","fontSize":22,"align":"center","baseline":"alphabetic","color":"#555"},"encoding":{"x":{"datum":1.7},"y":{"datum":-8.321}}}
]},
{"layer": [
 {"mark":{"type":"rule","color":"#111","strokeWidth":1},"encoding":{"x":{"datum":0,"type":"quantitative","scale":{"domain":[0,6],"range":[551.7,736],"nice":false,"zero":false}},"x2":{"datum":6},"y":{"datum":0,"type":"quantitative","scale":{"domain":[-1,1],"range":[145.7,97],"nice":false,"zero":false}}}},
 {"mark":{"type":"rule","color":"#444","strokeWidth":1},"encoding":{"x":{"datum":0},"y":{"datum":-1},"y2":{"datum":1}}},
 {"mark":{"type":"rule","color":"#444","strokeWidth":1},"encoding":{"x":{"datum":0},"x2":{"datum":6},"y":{"datum":-1}}},
 {"data":{"values":[{"v":1},{"v":2},{"v":3},{"v":4},{"v":5},{"v":6}]},"mark":{"type":"tick","orient":"vertical","size":4,"thickness":1,"yOffset":-2,"color":"#444"},"encoding":{"x":{"field":"v","type":"quantitative"},"y":{"datum":-1}}},
 {"data":{"values":[{"v":1}]},"mark":{"type":"tick","orient":"horizontal","size":4,"thickness":1,"xOffset":2,"color":"#444"},"encoding":{"y":{"field":"v","type":"quantitative"},"x":{"datum":0}}},
 {"data":{"name":"raw"},"transform":[{"filter":"datum.c=='np'"}],"mark":{"type":"line","color":"#F7B16A","strokeWidth":2.5},"encoding":{"x":{"field":"t","type":"quantitative"},"y":{"field":"v","type":"quantitative"}}},
 {"mark":{"type":"text","text":"time domain EEG","fontSize":22.5,"align":"left","baseline":"alphabetic","color":"#111"},"encoding":{"x":{"datum":-0.977},"y":{"datum":2.384}}},
 {"mark":{"type":"text","text":"r(t)","fontSize":22.5,"fontStyle":"italic","align":"left","baseline":"alphabetic","color":"#111"},"encoding":{"x":{"datum":4.967},"y":{"datum":2.384}}},
 {"mark":{"type":"text","text":"non-predictive condition","fontSize":19,"align":"left","baseline":"alphabetic","color":"#F7B16A"},"encoding":{"x":{"datum":0.107},"y":{"datum":0.959}}}
]},
{"layer": [
 {"mark":{"type":"rule","color":"#111","strokeWidth":1},"encoding":{"x":{"datum":0,"type":"quantitative","scale":{"domain":[0,6],"range":[551.7,736],"nice":false,"zero":false}},"x2":{"datum":6},"y":{"datum":0,"type":"quantitative","scale":{"domain":[-1,1],"range":[216.5,167.8],"nice":false,"zero":false}}}},
 {"mark":{"type":"rule","color":"#444","strokeWidth":1},"encoding":{"x":{"datum":0},"y":{"datum":-1},"y2":{"datum":1}}},
 {"mark":{"type":"rule","color":"#444","strokeWidth":1},"encoding":{"x":{"datum":0},"x2":{"datum":6},"y":{"datum":-1}}},
 {"data":{"values":[{"v":1},{"v":2},{"v":3},{"v":4},{"v":5},{"v":6}]},"mark":{"type":"tick","orient":"vertical","size":4,"thickness":1,"yOffset":-2,"color":"#444"},"encoding":{"x":{"field":"v","type":"quantitative"},"y":{"datum":-1}}},
 {"data":{"values":[{"v":1}]},"mark":{"type":"tick","orient":"horizontal","size":4,"thickness":1,"xOffset":2,"color":"#444"},"encoding":{"y":{"field":"v","type":"quantitative"},"x":{"datum":0}}},
 {"data":{"name":"raw"},"transform":[{"filter":"datum.c=='wp'"}],"mark":{"type":"line","color":"#ABA4D6","strokeWidth":2.5},"encoding":{"x":{"field":"t","type":"quantitative"},"y":{"field":"v","type":"quantitative"}}},
 {"mark":{"type":"text","text":"weakly predictive condition","fontSize":19,"align":"left","baseline":"alphabetic","color":"#ABA4D6"},"encoding":{"x":{"datum":0.042},"y":{"datum":0.992}}},
 {"mark":{"type":"text","text":"raw EEG","fontSize":20,"angle":270,"align":"center","baseline":"alphabetic","color":"#111"},"encoding":{"x":{"datum":-0.326},"y":{"datum":0.02}}}
]},
{"layer": [
 {"mark":{"type":"rule","color":"#111","strokeWidth":1},"encoding":{"x":{"datum":0,"type":"quantitative","scale":{"domain":[0,6],"range":[551.7,736],"nice":false,"zero":false}},"x2":{"datum":6},"y":{"datum":0,"type":"quantitative","scale":{"domain":[-1,1],"range":[286.7,238],"nice":false,"zero":false}}}},
 {"mark":{"type":"rule","color":"#444","strokeWidth":1},"encoding":{"x":{"datum":0},"y":{"datum":-1},"y2":{"datum":1}}},
 {"mark":{"type":"rule","color":"#444","strokeWidth":1},"encoding":{"x":{"datum":0},"x2":{"datum":6},"y":{"datum":-1}}},
 {"data":{"values":[{"v":1},{"v":2},{"v":3},{"v":4},{"v":5},{"v":6}]},"mark":{"type":"tick","orient":"vertical","size":4,"thickness":1,"yOffset":-2,"color":"#444"},"encoding":{"x":{"field":"v","type":"quantitative"},"y":{"datum":-1}}},
 {"data":{"values":[{"v":1}]},"mark":{"type":"tick","orient":"horizontal","size":4,"thickness":1,"xOffset":2,"color":"#444"},"encoding":{"y":{"field":"v","type":"quantitative"},"x":{"datum":0}}},
 {"data":{"name":"raw"},"transform":[{"filter":"datum.c=='sp'"}],"mark":{"type":"line","color":"#5C479E","strokeWidth":2.5},"encoding":{"x":{"field":"t","type":"quantitative"},"y":{"field":"v","type":"quantitative"}}},
 {"mark":{"type":"text","text":"strongly predictive condition","fontSize":19,"align":"left","baseline":"alphabetic","color":"#5C479E"},"encoding":{"x":{"datum":0.042},"y":{"datum":0.959}}},
 {"mark":{"type":"text","text":"time","fontSize":20,"align":"center","baseline":"alphabetic","color":"#111"},"encoding":{"x":{"datum":3.037},"y":{"datum":-1.957}}}
]},
{"layer": [
 {"mark":{"type":"rule","color":"#111","strokeWidth":1},"encoding":{"x":{"datum":0,"type":"quantitative","scale":{"domain":[0,6],"range":[549,732.6],"nice":false,"zero":false}},"x2":{"datum":6},"y":{"datum":0,"type":"quantitative","scale":{"domain":[-1,1],"range":[502.7,453.3],"nice":false,"zero":false}}}},
 {"mark":{"type":"rule","color":"#444","strokeWidth":1},"encoding":{"x":{"datum":0},"y":{"datum":-1},"y2":{"datum":1}}},
 {"mark":{"type":"rule","color":"#444","strokeWidth":1},"encoding":{"x":{"datum":0},"x2":{"datum":6},"y":{"datum":-1}}},
 {"data":{"values":[{"v":1},{"v":2},{"v":3},{"v":4},{"v":5},{"v":6}]},"mark":{"type":"tick","orient":"vertical","size":4,"thickness":1,"yOffset":-2,"color":"#444"},"encoding":{"x":{"field":"v","type":"quantitative"},"y":{"datum":-1}}},
 {"data":{"values":[{"v":1}]},"mark":{"type":"tick","orient":"horizontal","size":4,"thickness":1,"xOffset":2,"color":"#444"},"encoding":{"y":{"field":"v","type":"quantitative"},"x":{"datum":0}}},
 {"data":{"name":"pred"},"transform":[{"filter":"datum.c=='np'"}],"mark":{"type":"line","color":"#F7B16A","strokeWidth":2.5},"encoding":{"x":{"field":"t","type":"quantitative"},"y":{"field":"v","type":"quantitative"}}},
 {"mark":{"type":"text","text":"predicted EEG","fontSize":22.5,"align":"left","baseline":"alphabetic","color":"#111"},"encoding":{"x":{"datum":-0.075},"y":{"datum":2.279}}},
 {"mark":{"type":"rule","color":"#A8A8A8","strokeWidth":2},"encoding":{"x":{"datum":2.918},"y":{"datum":5.668},"y2":{"datum":6.0}}},
 {"mark":{"type":"point","shape":"M0,0L0.9,2L0,1.5L-0.9,2Z","size":64,"angle":0,"filled":true,"color":"#A8A8A8","opacity":1},"encoding":{"x":{"datum":2.918},"y":{"datum":6.113}}},
 {"mark":{"type":"rule","color":"#A8A8A8","strokeWidth":2},"encoding":{"x":{"datum":2.918},"y":{"datum":4.453},"y2":{"datum":3.75}}},
 {"mark":{"type":"point","shape":"M0,0L0.9,2L0,1.5L-0.9,2Z","size":64,"angle":180,"filled":true,"color":"#A8A8A8","opacity":1},"encoding":{"x":{"datum":2.918},"y":{"datum":3.644}}},
 {"mark":{"type":"text","text":"correlation","fontSize":22,"fontWeight":"bold","align":"center","baseline":"alphabetic","color":"#555"},"encoding":{"x":{"datum":2.958},"y":{"datum":4.749}}}
]},
{"layer": [
 {"mark":{"type":"rule","color":"#111","strokeWidth":1},"encoding":{"x":{"datum":0,"type":"quantitative","scale":{"domain":[0,6],"range":[549,732.6],"nice":false,"zero":false}},"x2":{"datum":6},"y":{"datum":0,"type":"quantitative","scale":{"domain":[-1,1],"range":[573,523.6],"nice":false,"zero":false}}}},
 {"mark":{"type":"rule","color":"#444","strokeWidth":1},"encoding":{"x":{"datum":0},"y":{"datum":-1},"y2":{"datum":1}}},
 {"mark":{"type":"rule","color":"#444","strokeWidth":1},"encoding":{"x":{"datum":0},"x2":{"datum":6},"y":{"datum":-1}}},
 {"data":{"values":[{"v":1},{"v":2},{"v":3},{"v":4},{"v":5},{"v":6}]},"mark":{"type":"tick","orient":"vertical","size":4,"thickness":1,"yOffset":-2,"color":"#444"},"encoding":{"x":{"field":"v","type":"quantitative"},"y":{"datum":-1}}},
 {"data":{"values":[{"v":1}]},"mark":{"type":"tick","orient":"horizontal","size":4,"thickness":1,"xOffset":2,"color":"#444"},"encoding":{"y":{"field":"v","type":"quantitative"},"x":{"datum":0}}},
 {"data":{"name":"pred"},"transform":[{"filter":"datum.c=='wp'"}],"mark":{"type":"line","color":"#ABA4D6","strokeWidth":2.5},"encoding":{"x":{"field":"t","type":"quantitative"},"y":{"field":"v","type":"quantitative"}}},
 {"mark":{"type":"text","text":"predicted EEG","fontSize":22,"angle":270,"align":"center","baseline":"alphabetic","color":"#111"},"encoding":{"x":{"datum":-0.261},"y":{"datum":0.101}}}
]},
{"layer": [
 {"mark":{"type":"rule","color":"#111","strokeWidth":1},"encoding":{"x":{"datum":0,"type":"quantitative","scale":{"domain":[0,6],"range":[549,732.6],"nice":false,"zero":false}},"x2":{"datum":6},"y":{"datum":0,"type":"quantitative","scale":{"domain":[-1,1],"range":[643.3,593.9],"nice":false,"zero":false}}}},
 {"mark":{"type":"rule","color":"#444","strokeWidth":1},"encoding":{"x":{"datum":0},"y":{"datum":-1},"y2":{"datum":1}}},
 {"mark":{"type":"rule","color":"#444","strokeWidth":1},"encoding":{"x":{"datum":0},"x2":{"datum":6},"y":{"datum":-1}}},
 {"data":{"values":[{"v":1},{"v":2},{"v":3},{"v":4},{"v":5},{"v":6}]},"mark":{"type":"tick","orient":"vertical","size":4,"thickness":1,"yOffset":-2,"color":"#444"},"encoding":{"x":{"field":"v","type":"quantitative"},"y":{"datum":-1}}},
 {"data":{"values":[{"v":1}]},"mark":{"type":"tick","orient":"horizontal","size":4,"thickness":1,"xOffset":2,"color":"#444"},"encoding":{"y":{"field":"v","type":"quantitative"},"x":{"datum":0}}},
 {"data":{"name":"pred"},"transform":[{"filter":"datum.c=='sp'"}],"mark":{"type":"line","color":"#5C479E","strokeWidth":2.5},"encoding":{"x":{"field":"t","type":"quantitative"},"y":{"field":"v","type":"quantitative"}}},
 {"mark":{"type":"text","text":"time","fontSize":20,"align":"center","baseline":"alphabetic","color":"#111"},"encoding":{"x":{"datum":3.203},"y":{"datum":-1.96}}}
]}
],
"resolve": {"scale": {"x": "independent", "y": "independent"}}
}
